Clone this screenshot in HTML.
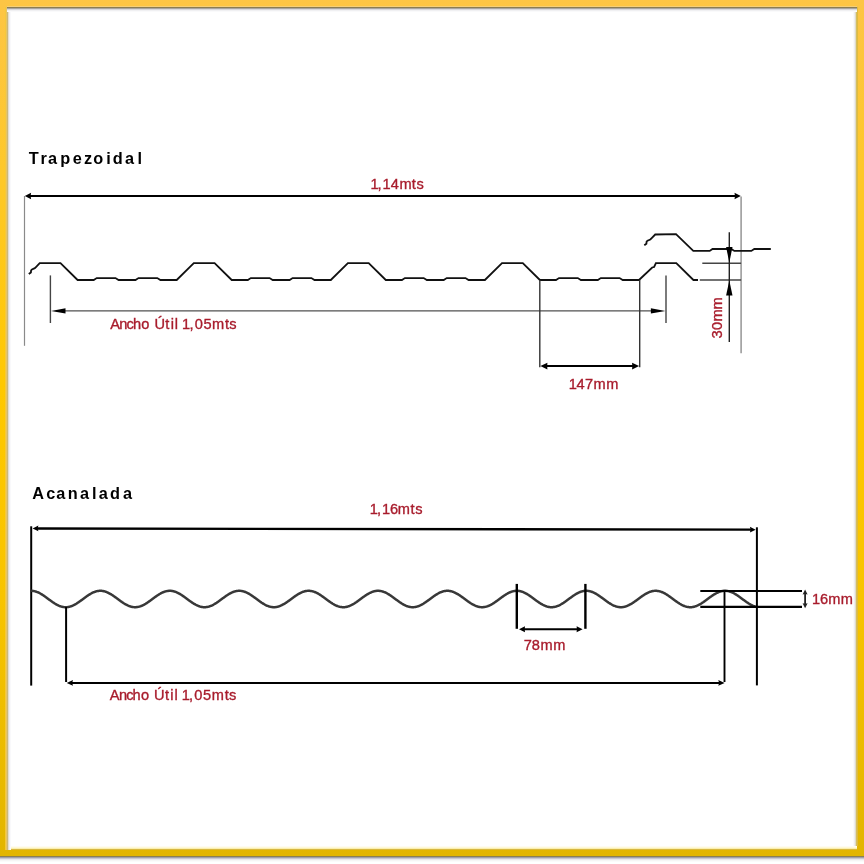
<!DOCTYPE html>
<html><head><meta charset="utf-8"><style>
html,body{margin:0;padding:0;background:#fff;width:864px;height:864px;overflow:hidden}
#frame{position:absolute;left:0;top:0;width:864px;height:856px;
background:linear-gradient(to bottom,#fdc545 0%,#fec82a 20%,#ffc800 45%,#f8c400 70%,#e2b500 100%)}
#inner{position:absolute;left:7px;top:7px;width:850px;height:842px;background:#fff}
.e{position:absolute}
#et{left:7px;top:6px;width:850px;height:6px;background:linear-gradient(to bottom,rgb(245,207,122) 0 1px,rgb(139,125,80) 1px 2px,rgb(168,164,160) 2px 3px,rgb(216,216,220) 3px 4px,rgb(240,240,242) 4px 5px,rgb(250,250,251) 5px 6px)}
#el{left:5px;top:7px;width:6px;height:843px;background:linear-gradient(to right,rgb(245,200,60) 0 1px,rgb(230,196,100) 1px 2px,rgb(204,184,120) 2px 3px,rgb(226,221,209) 3px 4px,rgb(240,240,243) 4px 5px,rgb(249,249,251) 5px 6px)}
#er{left:853px;top:7px;width:5px;height:839px;background:linear-gradient(to right,rgb(250,250,251) 0 1px,rgb(238,238,240) 1px 2px,rgb(224,220,200) 2px 3px,rgb(213,189,96) 3px 4px,rgb(221,187,64) 4px 5px)}
#eb{left:11px;top:846px;width:846px;height:4px;background:linear-gradient(to bottom,rgb(255,252,240) 0 1px,rgb(255,248,216) 1px 2px,rgb(250,239,176) 2px 3px,rgb(216,184,64) 3px 4px)}
#sh{left:0;top:856px;width:864px;height:6px;background:linear-gradient(to bottom,rgb(138,128,80) 0 1px,rgb(160,160,168) 1px 2px,rgb(200,200,208) 2px 3px,rgb(232,232,236) 3px 4px,rgb(245,245,245) 4px 5px,rgb(251,251,251) 5px 6px)}
svg{position:absolute;left:0;top:0;will-change:transform}
text{font-family:"Liberation Sans",sans-serif}
</style></head><body>
<div id="frame"></div><div id="inner"></div><div class="e" id="el"></div><div class="e" id="er"></div><div class="e" id="eb"></div><div class="e" id="et"></div><div class="e" id="sh"></div>
<svg width="864" height="864" viewBox="0 0 864 864">
<text x="33.65 43.55 52.6 65.3 77.4 88.1 98.25 108.45 117.85 129.65 139.8" y="164" font-size="16.3" font-weight="bold" fill="#000" text-anchor="middle">Trapezoidal</text>
<line x1="28" y1="196" x2="737" y2="196" stroke="#000" stroke-width="2.2"/>
<path d="M24.8 196 L31.1 192.8 L30.6 196 L31.1 199.2 Z" fill="#000"/>
<path d="M740.8 196 L734.5 192.8 L735 196 L734.5 199.2 Z" fill="#000"/>
<text x="374.6 379.6 386.55 394.9 405.5 413.8 420.1" y="188.6" font-size="14.6" fill="#a81c2c" stroke="#a81c2c" stroke-width="0.35" text-anchor="middle">1,14mts</text>
<line x1="24.5" y1="196" x2="24.5" y2="345.8" stroke="#8a8a8a" stroke-width="1.2"/>
<line x1="741.1" y1="196.5" x2="741.1" y2="353.2" stroke="#959595" stroke-width="1.5"/>
<path d="M28.8 274 L30.9 272.4 L31.1 270.3 L32 269.4 L34.8 268.2 L36.2 266.8 L39.7 263.2 L60.5 263.2 L77.6 280 L93.7 280 L96.7 278.1 L115.5 278.1 L118.6 280 L135.5 280 L138.5 278.1 L157.3 278.1 L160.4 280 L176.7 280 L193.8 263.2 L214.6 263.2 L231.7 280 L247.8 280 L250.8 278.1 L269.6 278.1 L272.7 280 L289.6 280 L292.6 278.1 L311.4 278.1 L314.5 280 L330.8 280 L347.9 263.2 L368.7 263.2 L385.8 280 L401.9 280 L404.9 278.1 L423.7 278.1 L426.8 280 L443.7 280 L446.7 278.1 L465.5 278.1 L468.6 280 L484.9 280 L502 263.2 L522.8 263.2 L539.9 280 L556 280 L559 278.1 L577.8 278.1 L580.9 280 L597.8 280 L600.8 278.1 L619.6 278.1 L622.7 280 L639 280 L652.2 267.5 L654.1 267 L655.9 263.2 L676.3 263.2 L693.4 280 L698 280" fill="none" stroke="#111" stroke-width="1.8" stroke-linejoin="miter"/>
<path d="M644.3 245.3 L646.4 243.7 L646.6 241.6 L647.5 240.7 L650.3 239.5 L651.7 238.1 L655.2 234.5 L676 234.1 L693.3 250.9 L709.7 250.9 L712.5 249 L731.3 249 L734.3 250.9 L751.3 250.9 L754.3 249 L770.8 249" fill="none" stroke="#111" stroke-width="1.8" stroke-linejoin="miter"/>
<line x1="50.4" y1="275.4" x2="50.4" y2="323" stroke="#444" stroke-width="1.4"/>
<line x1="666" y1="275.4" x2="666" y2="323" stroke="#444" stroke-width="1.4"/>
<line x1="60" y1="310.9" x2="656" y2="310.9" stroke="#505050" stroke-width="1.4"/>
<path d="M51 310.9 L65.5 308.2 L65.5 310.9 L65.5 313.6 Z" fill="#000"/>
<path d="M665.4 310.9 L650.9 308.2 L650.9 310.9 L650.9 313.6 Z" fill="#000"/>
<text x="115 123.35 130.1 136.95 145.35 152 159.65 167.3 172.25 176.4 181 186 191.45 198.7 207.45 218.1 227 232.9" y="328.7" font-size="14.6" fill="#a81c2c" stroke="#a81c2c" stroke-width="0.35" text-anchor="middle">Ancho &#218;til 1,05mts</text>
<line x1="539.8" y1="280" x2="539.8" y2="367.2" stroke="#333" stroke-width="1.4"/>
<line x1="639.7" y1="280" x2="639.7" y2="367.2" stroke="#333" stroke-width="1.4"/>
<line x1="544" y1="366.1" x2="636" y2="366.1" stroke="#000" stroke-width="2"/>
<path d="M540.4 366.1 L547.4 362.8 L547.2 366.1 L547.4 369.4 Z" fill="#000"/>
<path d="M639.1 366.1 L632.1 362.8 L632.3 366.1 L632.1 369.4 Z" fill="#000"/>
<text x="572.85 580.65 588.95 599.55 612.4" y="388.6" font-size="14.6" fill="#a81c2c" stroke="#a81c2c" stroke-width="0.35" text-anchor="middle">147mm</text>
<line x1="702.3" y1="263.2" x2="741.1" y2="263.2" stroke="#444" stroke-width="1.4"/>
<line x1="699.8" y1="280" x2="741.1" y2="280" stroke="#444" stroke-width="1.4"/>
<line x1="729.3" y1="232.2" x2="729.3" y2="342" stroke="#222" stroke-width="1.4"/>
<path d="M729.3 262.6 L726.1 247.1 L729.3 247.1 L732.5 247.1 Z" fill="#000"/>
<path d="M729.3 280.6 L726.1 295.4 L729.3 295.4 L732.5 295.4 Z" fill="#000"/>
<g transform="translate(721.6 0) rotate(-90)"><text x="-334.5 -326 -315.4 -303.45" y="0" font-size="14.6" fill="#a81c2c" stroke="#a81c2c" stroke-width="0.35" text-anchor="middle">30mm</text></g>
<text x="38.25 50.75 60.85 72.8 84.5 94.25 103.3 115.1 127.45" y="499.3" font-size="16.3" font-weight="bold" fill="#000" text-anchor="middle">Acanalada</text>
<line x1="37" y1="528.5" x2="751" y2="529.6" stroke="#000" stroke-width="2.3"/>
<path d="M32.6 528.4 L38.4 525.5 L37.6 528.4 L38.4 531.3 Z" fill="#000"/>
<path d="M755.7 529.7 L749.9 526.8 L750.7 529.7 L749.9 532.6 Z" fill="#000"/>
<text x="373.85 379 385.95 394.1 403.85 412.5 418.8" y="513.6" font-size="14.6" fill="#a81c2c" stroke="#a81c2c" stroke-width="0.35" text-anchor="middle">1,16mts</text>
<line x1="31.2" y1="526.3" x2="31.2" y2="685.6" stroke="#000" stroke-width="2"/>
<line x1="756.9" y1="527.3" x2="756.9" y2="685.4" stroke="#000" stroke-width="2"/>
<path d="M31.2 590.8 L31.7 590.82 L32.2 590.85 L32.7 590.9 L33.2 590.96 L33.7 591.04 L34.2 591.14 L34.7 591.26 L35.2 591.39 L35.7 591.53 L36.2 591.69 L36.7 591.87 L37.2 592.06 L37.7 592.26 L38.2 592.48 L38.7 592.71 L39.2 592.96 L39.7 593.21 L40.2 593.48 L40.7 593.76 L41.2 594.05 L41.7 594.36 L42.2 594.67 L42.7 594.99 L43.2 595.31 L43.7 595.65 L44.2 595.99 L44.7 596.34 L45.2 596.69 L45.7 597.05 L46.2 597.41 L46.7 597.78 L47.2 598.15 L47.7 598.52 L48.2 598.89 L48.7 599.26 L49.2 599.63 L49.7 600 L50.2 600.37 L50.7 600.73 L51.2 601.09 L51.7 601.45 L52.2 601.8 L52.7 602.15 L53.2 602.49 L53.7 602.82 L54.2 603.14 L54.7 603.46 L55.2 603.77 L55.7 604.06 L56.2 604.35 L56.7 604.63 L57.2 604.89 L57.7 605.14 L58.2 605.38 L58.7 605.61 L59.2 605.82 L59.7 606.02 L60.2 606.2 L60.7 606.37 L61.2 606.53 L61.7 606.67 L62.2 606.79 L62.7 606.9 L63.2 606.99 L63.7 607.07 L64.2 607.12 L64.7 607.17 L65.2 607.19 L65.7 607.2 L66.2 607.19 L66.7 607.17 L67.2 607.12 L67.7 607.07 L68.2 606.99 L68.7 606.9 L69.2 606.79 L69.7 606.67 L70.2 606.53 L70.7 606.37 L71.2 606.2 L71.7 606.02 L72.2 605.82 L72.7 605.61 L73.2 605.38 L73.7 605.14 L74.2 604.89 L74.7 604.63 L75.2 604.35 L75.7 604.06 L76.2 603.77 L76.7 603.46 L77.2 603.14 L77.7 602.82 L78.2 602.49 L78.7 602.15 L79.2 601.8 L79.7 601.45 L80.2 601.09 L80.7 600.73 L81.2 600.37 L81.7 600 L82.2 599.63 L82.7 599.26 L83.2 598.89 L83.7 598.52 L84.2 598.15 L84.7 597.78 L85.2 597.41 L85.7 597.05 L86.2 596.69 L86.7 596.34 L87.2 595.99 L87.7 595.65 L88.2 595.31 L88.7 594.99 L89.2 594.67 L89.7 594.36 L90.2 594.05 L90.7 593.76 L91.2 593.48 L91.7 593.21 L92.2 592.96 L92.7 592.71 L93.2 592.48 L93.7 592.26 L94.2 592.06 L94.7 591.87 L95.2 591.69 L95.7 591.53 L96.2 591.39 L96.7 591.26 L97.2 591.14 L97.7 591.04 L98.2 590.96 L98.7 590.9 L99.2 590.85 L99.7 590.82 L100.2 590.8 L100.7 590.8 L101.2 590.82 L101.7 590.86 L102.2 590.91 L102.7 590.98 L103.2 591.06 L103.7 591.16 L104.2 591.28 L104.7 591.41 L105.2 591.56 L105.7 591.73 L106.2 591.9 L106.7 592.1 L107.2 592.31 L107.7 592.53 L108.2 592.76 L108.7 593.01 L109.2 593.27 L109.7 593.54 L110.2 593.82 L110.7 594.11 L111.2 594.42 L111.7 594.73 L112.2 595.05 L112.7 595.38 L113.2 595.72 L113.7 596.06 L114.2 596.41 L114.7 596.76 L115.2 597.12 L115.7 597.49 L116.2 597.85 L116.7 598.22 L117.2 598.59 L117.7 598.96 L118.2 599.33 L118.7 599.7 L119.2 600.07 L119.7 600.44 L120.2 600.8 L120.7 601.16 L121.2 601.52 L121.7 601.87 L122.2 602.22 L122.7 602.55 L123.2 602.88 L123.7 603.21 L124.2 603.52 L124.7 603.83 L125.2 604.12 L125.7 604.41 L126.2 604.68 L126.7 604.94 L127.2 605.19 L127.7 605.43 L128.2 605.65 L128.7 605.86 L129.2 606.06 L129.7 606.24 L130.2 606.41 L130.7 606.56 L131.2 606.69 L131.7 606.81 L132.2 606.92 L132.7 607.01 L133.2 607.08 L133.7 607.13 L134.2 607.17 L134.7 607.19 L135.2 607.2 L135.7 607.19 L136.2 607.16 L136.7 607.11 L137.2 607.05 L137.7 606.97 L138.2 606.88 L138.7 606.77 L139.2 606.64 L139.7 606.5 L140.2 606.34 L140.7 606.17 L141.2 605.98 L141.7 605.78 L142.2 605.56 L142.7 605.33 L143.2 605.09 L143.7 604.84 L144.2 604.57 L144.7 604.29 L145.2 604 L145.7 603.71 L146.2 603.4 L146.7 603.08 L147.2 602.75 L147.7 602.42 L148.2 602.08 L148.7 601.73 L149.2 601.38 L149.7 601.02 L150.2 600.66 L150.7 600.29 L151.2 599.93 L151.7 599.56 L152.2 599.19 L152.7 598.81 L153.2 598.44 L153.7 598.07 L154.2 597.71 L154.7 597.34 L155.2 596.98 L155.7 596.62 L156.2 596.27 L156.7 595.92 L157.2 595.58 L157.7 595.25 L158.2 594.92 L158.7 594.6 L159.2 594.29 L159.7 594 L160.2 593.71 L160.7 593.43 L161.2 593.16 L161.7 592.91 L162.2 592.67 L162.7 592.44 L163.2 592.22 L163.7 592.02 L164.2 591.83 L164.7 591.66 L165.2 591.5 L165.7 591.36 L166.2 591.23 L166.7 591.12 L167.2 591.03 L167.7 590.95 L168.2 590.89 L168.7 590.84 L169.2 590.81 L169.7 590.8 L170.2 590.81 L170.7 590.83 L171.2 590.87 L171.7 590.92 L172.2 590.99 L172.7 591.08 L173.2 591.19 L173.7 591.31 L174.2 591.44 L174.7 591.59 L175.2 591.76 L175.7 591.94 L176.2 592.14 L176.7 592.35 L177.2 592.57 L177.7 592.81 L178.2 593.06 L178.7 593.32 L179.2 593.59 L179.7 593.88 L180.2 594.17 L180.7 594.48 L181.2 594.79 L181.7 595.12 L182.2 595.45 L182.7 595.78 L183.2 596.13 L183.7 596.48 L184.2 596.84 L184.7 597.2 L185.2 597.56 L185.7 597.93 L186.2 598.3 L186.7 598.67 L187.2 599.04 L187.7 599.41 L188.2 599.78 L188.7 600.15 L189.2 600.51 L189.7 600.88 L190.2 601.24 L190.7 601.59 L191.2 601.94 L191.7 602.28 L192.2 602.62 L192.7 602.95 L193.2 603.27 L193.7 603.58 L194.2 603.89 L194.7 604.18 L195.2 604.46 L195.7 604.73 L196.2 604.99 L196.7 605.24 L197.2 605.47 L197.7 605.69 L198.2 605.9 L198.7 606.1 L199.2 606.27 L199.7 606.44 L200.2 606.59 L200.7 606.72 L201.2 606.84 L201.7 606.94 L202.2 607.02 L202.7 607.09 L203.2 607.14 L203.7 607.18 L204.2 607.2 L204.7 607.2 L205.2 607.18 L205.7 607.15 L206.2 607.1 L206.7 607.04 L207.2 606.96 L207.7 606.86 L208.2 606.74 L208.7 606.61 L209.2 606.47 L209.7 606.31 L210.2 606.13 L210.7 605.94 L211.2 605.74 L211.7 605.52 L212.2 605.29 L212.7 605.04 L213.2 604.79 L213.7 604.52 L214.2 604.24 L214.7 603.95 L215.2 603.64 L215.7 603.33 L216.2 603.01 L216.7 602.69 L217.2 602.35 L217.7 602.01 L218.2 601.66 L218.7 601.31 L219.2 600.95 L219.7 600.59 L220.2 600.22 L220.7 599.85 L221.2 599.48 L221.7 599.11 L222.2 598.74 L222.7 598.37 L223.2 598 L223.7 597.63 L224.2 597.27 L224.7 596.91 L225.2 596.55 L225.7 596.2 L226.2 595.85 L226.7 595.51 L227.2 595.18 L227.7 594.86 L228.2 594.54 L228.7 594.23 L229.2 593.94 L229.7 593.65 L230.2 593.37 L230.7 593.11 L231.2 592.86 L231.7 592.62 L232.2 592.39 L232.7 592.18 L233.2 591.98 L233.7 591.8 L234.2 591.63 L234.7 591.47 L235.2 591.33 L235.7 591.21 L236.2 591.1 L236.7 591.01 L237.2 590.93 L237.7 590.88 L238.2 590.83 L238.7 590.81 L239.2 590.8 L239.7 590.81 L240.2 590.83 L240.7 590.88 L241.2 590.93 L241.7 591.01 L242.2 591.1 L242.7 591.21 L243.2 591.33 L243.7 591.47 L244.2 591.63 L244.7 591.8 L245.2 591.98 L245.7 592.18 L246.2 592.39 L246.7 592.62 L247.2 592.86 L247.7 593.11 L248.2 593.37 L248.7 593.65 L249.2 593.94 L249.7 594.23 L250.2 594.54 L250.7 594.86 L251.2 595.18 L251.7 595.51 L252.2 595.85 L252.7 596.2 L253.2 596.55 L253.7 596.91 L254.2 597.27 L254.7 597.63 L255.2 598 L255.7 598.37 L256.2 598.74 L256.7 599.11 L257.2 599.48 L257.7 599.85 L258.2 600.22 L258.7 600.59 L259.2 600.95 L259.7 601.31 L260.2 601.66 L260.7 602.01 L261.2 602.35 L261.7 602.69 L262.2 603.01 L262.7 603.33 L263.2 603.64 L263.7 603.95 L264.2 604.24 L264.7 604.52 L265.2 604.79 L265.7 605.04 L266.2 605.29 L266.7 605.52 L267.2 605.74 L267.7 605.94 L268.2 606.13 L268.7 606.31 L269.2 606.47 L269.7 606.61 L270.2 606.74 L270.7 606.86 L271.2 606.96 L271.7 607.04 L272.2 607.1 L272.7 607.15 L273.2 607.18 L273.7 607.2 L274.2 607.2 L274.7 607.18 L275.2 607.14 L275.7 607.09 L276.2 607.02 L276.7 606.94 L277.2 606.84 L277.7 606.72 L278.2 606.59 L278.7 606.44 L279.2 606.27 L279.7 606.1 L280.2 605.9 L280.7 605.69 L281.2 605.47 L281.7 605.24 L282.2 604.99 L282.7 604.73 L283.2 604.46 L283.7 604.18 L284.2 603.89 L284.7 603.58 L285.2 603.27 L285.7 602.95 L286.2 602.62 L286.7 602.28 L287.2 601.94 L287.7 601.59 L288.2 601.24 L288.7 600.88 L289.2 600.51 L289.7 600.15 L290.2 599.78 L290.7 599.41 L291.2 599.04 L291.7 598.67 L292.2 598.3 L292.7 597.93 L293.2 597.56 L293.7 597.2 L294.2 596.84 L294.7 596.48 L295.2 596.13 L295.7 595.78 L296.2 595.45 L296.7 595.12 L297.2 594.79 L297.7 594.48 L298.2 594.17 L298.7 593.88 L299.2 593.59 L299.7 593.32 L300.2 593.06 L300.7 592.81 L301.2 592.57 L301.7 592.35 L302.2 592.14 L302.7 591.94 L303.2 591.76 L303.7 591.59 L304.2 591.44 L304.7 591.31 L305.2 591.19 L305.7 591.08 L306.2 590.99 L306.7 590.92 L307.2 590.87 L307.7 590.83 L308.2 590.81 L308.7 590.8 L309.2 590.81 L309.7 590.84 L310.2 590.89 L310.7 590.95 L311.2 591.03 L311.7 591.12 L312.2 591.23 L312.7 591.36 L313.2 591.5 L313.7 591.66 L314.2 591.83 L314.7 592.02 L315.2 592.22 L315.7 592.44 L316.2 592.67 L316.7 592.91 L317.2 593.16 L317.7 593.43 L318.2 593.71 L318.7 594 L319.2 594.29 L319.7 594.6 L320.2 594.92 L320.7 595.25 L321.2 595.58 L321.7 595.92 L322.2 596.27 L322.7 596.62 L323.2 596.98 L323.7 597.34 L324.2 597.71 L324.7 598.07 L325.2 598.44 L325.7 598.81 L326.2 599.19 L326.7 599.56 L327.2 599.93 L327.7 600.29 L328.2 600.66 L328.7 601.02 L329.2 601.38 L329.7 601.73 L330.2 602.08 L330.7 602.42 L331.2 602.75 L331.7 603.08 L332.2 603.4 L332.7 603.71 L333.2 604 L333.7 604.29 L334.2 604.57 L334.7 604.84 L335.2 605.09 L335.7 605.33 L336.2 605.56 L336.7 605.78 L337.2 605.98 L337.7 606.17 L338.2 606.34 L338.7 606.5 L339.2 606.64 L339.7 606.77 L340.2 606.88 L340.7 606.97 L341.2 607.05 L341.7 607.11 L342.2 607.16 L342.7 607.19 L343.2 607.2 L343.7 607.19 L344.2 607.17 L344.7 607.13 L345.2 607.08 L345.7 607.01 L346.2 606.92 L346.7 606.81 L347.2 606.69 L347.7 606.56 L348.2 606.41 L348.7 606.24 L349.2 606.06 L349.7 605.86 L350.2 605.65 L350.7 605.43 L351.2 605.19 L351.7 604.94 L352.2 604.68 L352.7 604.41 L353.2 604.12 L353.7 603.83 L354.2 603.52 L354.7 603.21 L355.2 602.88 L355.7 602.55 L356.2 602.22 L356.7 601.87 L357.2 601.52 L357.7 601.16 L358.2 600.8 L358.7 600.44 L359.2 600.07 L359.7 599.7 L360.2 599.33 L360.7 598.96 L361.2 598.59 L361.7 598.22 L362.2 597.85 L362.7 597.49 L363.2 597.12 L363.7 596.76 L364.2 596.41 L364.7 596.06 L365.2 595.72 L365.7 595.38 L366.2 595.05 L366.7 594.73 L367.2 594.42 L367.7 594.11 L368.2 593.82 L368.7 593.54 L369.2 593.27 L369.7 593.01 L370.2 592.76 L370.7 592.53 L371.2 592.31 L371.7 592.1 L372.2 591.9 L372.7 591.73 L373.2 591.56 L373.7 591.41 L374.2 591.28 L374.7 591.16 L375.2 591.06 L375.7 590.98 L376.2 590.91 L376.7 590.86 L377.2 590.82 L377.7 590.8 L378.2 590.8 L378.7 590.82 L379.2 590.85 L379.7 590.9 L380.2 590.96 L380.7 591.04 L381.2 591.14 L381.7 591.26 L382.2 591.39 L382.7 591.53 L383.2 591.69 L383.7 591.87 L384.2 592.06 L384.7 592.26 L385.2 592.48 L385.7 592.71 L386.2 592.96 L386.7 593.21 L387.2 593.48 L387.7 593.76 L388.2 594.05 L388.7 594.36 L389.2 594.67 L389.7 594.99 L390.2 595.31 L390.7 595.65 L391.2 595.99 L391.7 596.34 L392.2 596.69 L392.7 597.05 L393.2 597.41 L393.7 597.78 L394.2 598.15 L394.7 598.52 L395.2 598.89 L395.7 599.26 L396.2 599.63 L396.7 600 L397.2 600.37 L397.7 600.73 L398.2 601.09 L398.7 601.45 L399.2 601.8 L399.7 602.15 L400.2 602.49 L400.7 602.82 L401.2 603.14 L401.7 603.46 L402.2 603.77 L402.7 604.06 L403.2 604.35 L403.7 604.63 L404.2 604.89 L404.7 605.14 L405.2 605.38 L405.7 605.61 L406.2 605.82 L406.7 606.02 L407.2 606.2 L407.7 606.37 L408.2 606.53 L408.7 606.67 L409.2 606.79 L409.7 606.9 L410.2 606.99 L410.7 607.07 L411.2 607.12 L411.7 607.17 L412.2 607.19 L412.7 607.2 L413.2 607.19 L413.7 607.17 L414.2 607.12 L414.7 607.07 L415.2 606.99 L415.7 606.9 L416.2 606.79 L416.7 606.67 L417.2 606.53 L417.7 606.37 L418.2 606.2 L418.7 606.02 L419.2 605.82 L419.7 605.61 L420.2 605.38 L420.7 605.14 L421.2 604.89 L421.7 604.63 L422.2 604.35 L422.7 604.06 L423.2 603.77 L423.7 603.46 L424.2 603.14 L424.7 602.82 L425.2 602.49 L425.7 602.15 L426.2 601.8 L426.7 601.45 L427.2 601.09 L427.7 600.73 L428.2 600.37 L428.7 600 L429.2 599.63 L429.7 599.26 L430.2 598.89 L430.7 598.52 L431.2 598.15 L431.7 597.78 L432.2 597.41 L432.7 597.05 L433.2 596.69 L433.7 596.34 L434.2 595.99 L434.7 595.65 L435.2 595.31 L435.7 594.99 L436.2 594.67 L436.7 594.36 L437.2 594.05 L437.7 593.76 L438.2 593.48 L438.7 593.21 L439.2 592.96 L439.7 592.71 L440.2 592.48 L440.7 592.26 L441.2 592.06 L441.7 591.87 L442.2 591.69 L442.7 591.53 L443.2 591.39 L443.7 591.26 L444.2 591.14 L444.7 591.04 L445.2 590.96 L445.7 590.9 L446.2 590.85 L446.7 590.82 L447.2 590.8 L447.7 590.8 L448.2 590.82 L448.7 590.86 L449.2 590.91 L449.7 590.98 L450.2 591.06 L450.7 591.16 L451.2 591.28 L451.7 591.41 L452.2 591.56 L452.7 591.73 L453.2 591.9 L453.7 592.1 L454.2 592.31 L454.7 592.53 L455.2 592.76 L455.7 593.01 L456.2 593.27 L456.7 593.54 L457.2 593.82 L457.7 594.11 L458.2 594.42 L458.7 594.73 L459.2 595.05 L459.7 595.38 L460.2 595.72 L460.7 596.06 L461.2 596.41 L461.7 596.76 L462.2 597.12 L462.7 597.49 L463.2 597.85 L463.7 598.22 L464.2 598.59 L464.7 598.96 L465.2 599.33 L465.7 599.7 L466.2 600.07 L466.7 600.44 L467.2 600.8 L467.7 601.16 L468.2 601.52 L468.7 601.87 L469.2 602.22 L469.7 602.55 L470.2 602.88 L470.7 603.21 L471.2 603.52 L471.7 603.83 L472.2 604.12 L472.7 604.41 L473.2 604.68 L473.7 604.94 L474.2 605.19 L474.7 605.43 L475.2 605.65 L475.7 605.86 L476.2 606.06 L476.7 606.24 L477.2 606.41 L477.7 606.56 L478.2 606.69 L478.7 606.81 L479.2 606.92 L479.7 607.01 L480.2 607.08 L480.7 607.13 L481.2 607.17 L481.7 607.19 L482.2 607.2 L482.7 607.19 L483.2 607.16 L483.7 607.11 L484.2 607.05 L484.7 606.97 L485.2 606.88 L485.7 606.77 L486.2 606.64 L486.7 606.5 L487.2 606.34 L487.7 606.17 L488.2 605.98 L488.7 605.78 L489.2 605.56 L489.7 605.33 L490.2 605.09 L490.7 604.84 L491.2 604.57 L491.7 604.29 L492.2 604 L492.7 603.71 L493.2 603.4 L493.7 603.08 L494.2 602.75 L494.7 602.42 L495.2 602.08 L495.7 601.73 L496.2 601.38 L496.7 601.02 L497.2 600.66 L497.7 600.29 L498.2 599.93 L498.7 599.56 L499.2 599.19 L499.7 598.81 L500.2 598.44 L500.7 598.07 L501.2 597.71 L501.7 597.34 L502.2 596.98 L502.7 596.62 L503.2 596.27 L503.7 595.92 L504.2 595.58 L504.7 595.25 L505.2 594.92 L505.7 594.6 L506.2 594.29 L506.7 594 L507.2 593.71 L507.7 593.43 L508.2 593.16 L508.7 592.91 L509.2 592.67 L509.7 592.44 L510.2 592.22 L510.7 592.02 L511.2 591.83 L511.7 591.66 L512.2 591.5 L512.7 591.36 L513.2 591.23 L513.7 591.12 L514.2 591.03 L514.7 590.95 L515.2 590.89 L515.7 590.84 L516.2 590.81 L516.7 590.8 L517.2 590.81 L517.7 590.83 L518.2 590.87 L518.7 590.92 L519.2 590.99 L519.7 591.08 L520.2 591.19 L520.7 591.31 L521.2 591.44 L521.7 591.59 L522.2 591.76 L522.7 591.94 L523.2 592.14 L523.7 592.35 L524.2 592.57 L524.7 592.81 L525.2 593.06 L525.7 593.32 L526.2 593.59 L526.7 593.88 L527.2 594.17 L527.7 594.48 L528.2 594.79 L528.7 595.12 L529.2 595.45 L529.7 595.78 L530.2 596.13 L530.7 596.48 L531.2 596.84 L531.7 597.2 L532.2 597.56 L532.7 597.93 L533.2 598.3 L533.7 598.67 L534.2 599.04 L534.7 599.41 L535.2 599.78 L535.7 600.15 L536.2 600.51 L536.7 600.88 L537.2 601.24 L537.7 601.59 L538.2 601.94 L538.7 602.28 L539.2 602.62 L539.7 602.95 L540.2 603.27 L540.7 603.58 L541.2 603.89 L541.7 604.18 L542.2 604.46 L542.7 604.73 L543.2 604.99 L543.7 605.24 L544.2 605.47 L544.7 605.69 L545.2 605.9 L545.7 606.1 L546.2 606.27 L546.7 606.44 L547.2 606.59 L547.7 606.72 L548.2 606.84 L548.7 606.94 L549.2 607.02 L549.7 607.09 L550.2 607.14 L550.7 607.18 L551.2 607.2 L551.7 607.2 L552.2 607.18 L552.7 607.15 L553.2 607.1 L553.7 607.04 L554.2 606.96 L554.7 606.86 L555.2 606.74 L555.7 606.61 L556.2 606.47 L556.7 606.31 L557.2 606.13 L557.7 605.94 L558.2 605.74 L558.7 605.52 L559.2 605.29 L559.7 605.04 L560.2 604.79 L560.7 604.52 L561.2 604.24 L561.7 603.95 L562.2 603.64 L562.7 603.33 L563.2 603.01 L563.7 602.69 L564.2 602.35 L564.7 602.01 L565.2 601.66 L565.7 601.31 L566.2 600.95 L566.7 600.59 L567.2 600.22 L567.7 599.85 L568.2 599.48 L568.7 599.11 L569.2 598.74 L569.7 598.37 L570.2 598 L570.7 597.63 L571.2 597.27 L571.7 596.91 L572.2 596.55 L572.7 596.2 L573.2 595.85 L573.7 595.51 L574.2 595.18 L574.7 594.86 L575.2 594.54 L575.7 594.23 L576.2 593.94 L576.7 593.65 L577.2 593.37 L577.7 593.11 L578.2 592.86 L578.7 592.62 L579.2 592.39 L579.7 592.18 L580.2 591.98 L580.7 591.8 L581.2 591.63 L581.7 591.47 L582.2 591.33 L582.7 591.21 L583.2 591.1 L583.7 591.01 L584.2 590.93 L584.7 590.88 L585.2 590.83 L585.7 590.81 L586.2 590.8 L586.7 590.81 L587.2 590.83 L587.7 590.88 L588.2 590.93 L588.7 591.01 L589.2 591.1 L589.7 591.21 L590.2 591.33 L590.7 591.47 L591.2 591.63 L591.7 591.8 L592.2 591.98 L592.7 592.18 L593.2 592.39 L593.7 592.62 L594.2 592.86 L594.7 593.11 L595.2 593.37 L595.7 593.65 L596.2 593.94 L596.7 594.23 L597.2 594.54 L597.7 594.86 L598.2 595.18 L598.7 595.51 L599.2 595.85 L599.7 596.2 L600.2 596.55 L600.7 596.91 L601.2 597.27 L601.7 597.63 L602.2 598 L602.7 598.37 L603.2 598.74 L603.7 599.11 L604.2 599.48 L604.7 599.85 L605.2 600.22 L605.7 600.59 L606.2 600.95 L606.7 601.31 L607.2 601.66 L607.7 602.01 L608.2 602.35 L608.7 602.69 L609.2 603.01 L609.7 603.33 L610.2 603.64 L610.7 603.95 L611.2 604.24 L611.7 604.52 L612.2 604.79 L612.7 605.04 L613.2 605.29 L613.7 605.52 L614.2 605.74 L614.7 605.94 L615.2 606.13 L615.7 606.31 L616.2 606.47 L616.7 606.61 L617.2 606.74 L617.7 606.86 L618.2 606.96 L618.7 607.04 L619.2 607.1 L619.7 607.15 L620.2 607.18 L620.7 607.2 L621.2 607.2 L621.7 607.18 L622.2 607.14 L622.7 607.09 L623.2 607.02 L623.7 606.94 L624.2 606.84 L624.7 606.72 L625.2 606.59 L625.7 606.44 L626.2 606.27 L626.7 606.1 L627.2 605.9 L627.7 605.69 L628.2 605.47 L628.7 605.24 L629.2 604.99 L629.7 604.73 L630.2 604.46 L630.7 604.18 L631.2 603.89 L631.7 603.58 L632.2 603.27 L632.7 602.95 L633.2 602.62 L633.7 602.28 L634.2 601.94 L634.7 601.59 L635.2 601.24 L635.7 600.88 L636.2 600.51 L636.7 600.15 L637.2 599.78 L637.7 599.41 L638.2 599.04 L638.7 598.67 L639.2 598.3 L639.7 597.93 L640.2 597.56 L640.7 597.2 L641.2 596.84 L641.7 596.48 L642.2 596.13 L642.7 595.78 L643.2 595.45 L643.7 595.12 L644.2 594.79 L644.7 594.48 L645.2 594.17 L645.7 593.88 L646.2 593.59 L646.7 593.32 L647.2 593.06 L647.7 592.81 L648.2 592.57 L648.7 592.35 L649.2 592.14 L649.7 591.94 L650.2 591.76 L650.7 591.59 L651.2 591.44 L651.7 591.31 L652.2 591.19 L652.7 591.08 L653.2 590.99 L653.7 590.92 L654.2 590.87 L654.7 590.83 L655.2 590.81 L655.7 590.8 L656.2 590.81 L656.7 590.84 L657.2 590.89 L657.7 590.95 L658.2 591.03 L658.7 591.12 L659.2 591.23 L659.7 591.36 L660.2 591.5 L660.7 591.66 L661.2 591.83 L661.7 592.02 L662.2 592.22 L662.7 592.44 L663.2 592.67 L663.7 592.91 L664.2 593.16 L664.7 593.43 L665.2 593.71 L665.7 594 L666.2 594.29 L666.7 594.6 L667.2 594.92 L667.7 595.25 L668.2 595.58 L668.7 595.92 L669.2 596.27 L669.7 596.62 L670.2 596.98 L670.7 597.34 L671.2 597.71 L671.7 598.07 L672.2 598.44 L672.7 598.81 L673.2 599.19 L673.7 599.56 L674.2 599.93 L674.7 600.29 L675.2 600.66 L675.7 601.02 L676.2 601.38 L676.7 601.73 L677.2 602.08 L677.7 602.42 L678.2 602.75 L678.7 603.08 L679.2 603.4 L679.7 603.71 L680.2 604 L680.7 604.29 L681.2 604.57 L681.7 604.84 L682.2 605.09 L682.7 605.33 L683.2 605.56 L683.7 605.78 L684.2 605.98 L684.7 606.17 L685.2 606.34 L685.7 606.5 L686.2 606.64 L686.7 606.77 L687.2 606.88 L687.7 606.97 L688.2 607.05 L688.7 607.11 L689.2 607.16 L689.7 607.19 L690.2 607.2 L690.7 607.19 L691.2 607.17 L691.7 607.13 L692.2 607.08 L692.7 607.01 L693.2 606.92 L693.7 606.81 L694.2 606.69 L694.7 606.56 L695.2 606.41 L695.7 606.24 L696.2 606.06 L696.7 605.86 L697.2 605.65 L697.7 605.43 L698.2 605.19 L698.7 604.94 L699.2 604.68 L699.7 604.41 L700.2 604.12 L700.7 603.83 L701.2 603.52 L701.7 603.21 L702.2 602.88 L702.7 602.55 L703.2 602.22 L703.7 601.87 L704.2 601.52 L704.7 601.16 L705.2 600.8 L705.7 600.44 L706.2 600.07 L706.7 599.7 L707.2 599.33 L707.7 598.96 L708.2 598.59 L708.7 598.22 L709.2 597.85 L709.7 597.49 L710.2 597.12 L710.7 596.76 L711.2 596.41 L711.7 596.06 L712.2 595.72 L712.7 595.38 L713.2 595.05 L713.7 594.73 L714.2 594.42 L714.7 594.11 L715.2 593.82 L715.7 593.54 L716.2 593.27 L716.7 593.01 L717.2 592.76 L717.7 592.53 L718.2 592.31 L718.7 592.1 L719.2 591.9 L719.7 591.73 L720.2 591.56 L720.7 591.41 L721.2 591.28 L721.7 591.16 L722.2 591.06 L722.7 590.98 L723.2 590.91 L723.7 590.86 L724.2 590.82 L724.7 590.8 L725.2 590.8 L725.7 590.82 L726.2 590.85 L726.7 590.9 L727.2 590.96 L727.7 591.04 L728.2 591.14 L728.7 591.26 L729.2 591.39 L729.7 591.53 L730.2 591.69 L730.7 591.87 L731.2 592.06 L731.7 592.26 L732.2 592.48 L732.7 592.71 L733.2 592.96 L733.7 593.21 L734.2 593.48 L734.7 593.76 L735.2 594.05 L735.7 594.36 L736.2 594.67 L736.7 594.99 L737.2 595.31 L737.7 595.65 L738.2 595.99 L738.7 596.34 L739.2 596.69 L739.7 597.05 L740.2 597.41 L740.7 597.78 L741.2 598.15 L741.7 598.52 L742.2 598.89 L742.7 599.26 L743.2 599.63 L743.7 600 L744.2 600.37 L744.7 600.73 L745.2 601.09 L745.7 601.45 L746.2 601.8 L746.7 602.15 L747.2 602.49 L747.7 602.82 L748.2 603.14 L748.7 603.46 L749.2 603.77 L749.7 604.06 L750.2 604.35 L750.7 604.63 L751.2 604.89 L751.7 605.14 L752.2 605.38 L752.7 605.61 L753.2 605.82 L753.7 606.02 L754.2 606.2 L754.7 606.37 L755.2 606.53 L755.7 606.67" fill="none" stroke="#383838" stroke-width="2.5" stroke-linejoin="round"/>
<line x1="516.8" y1="583.9" x2="516.8" y2="628.8" stroke="#000" stroke-width="2.4"/>
<line x1="585.4" y1="583.9" x2="585.4" y2="628.8" stroke="#000" stroke-width="2.4"/>
<line x1="522" y1="629.2" x2="580" y2="629.2" stroke="#000" stroke-width="2"/>
<path d="M519 629.2 L525 626.2 L524.7 629.2 L525 632.2 Z" fill="#000"/>
<path d="M582.6 629.2 L576.6 626.2 L576.9 629.2 L576.6 632.2 Z" fill="#000"/>
<text x="527.8 535.8 546.6 559.35" y="649.8" font-size="14.6" fill="#a81c2c" stroke="#a81c2c" stroke-width="0.35" text-anchor="middle">78mm</text>
<line x1="700.3" y1="591" x2="802" y2="591" stroke="#000" stroke-width="2.2"/>
<line x1="700.3" y1="606.85" x2="802" y2="606.85" stroke="#000" stroke-width="2.2"/>
<line x1="805.1" y1="592" x2="805.1" y2="606" stroke="#222" stroke-width="1.8"/>
<path d="M805.1 589.4 L802.6 594.4 L805.1 593.9 L807.6 594.4 Z" fill="#222"/>
<path d="M805.1 608.2 L802.6 603.2 L805.1 603.7 L807.6 603.2 Z" fill="#222"/>
<text x="815.95 824.05 834.3 846.9" y="603.6" font-size="14.6" fill="#a81c2c" stroke="#a81c2c" stroke-width="0.35" text-anchor="middle">16mm</text>
<line x1="66.1" y1="607" x2="66.1" y2="682" stroke="#000" stroke-width="2"/>
<line x1="724.5" y1="591" x2="724.5" y2="682" stroke="#000" stroke-width="1.9"/>
<line x1="71" y1="682.9" x2="720" y2="682.9" stroke="#000" stroke-width="2"/>
<path d="M66.7 682.9 L73 680.1 L72.2 682.9 L73 685.7 Z" fill="#000"/>
<path d="M724.6 682.9 L718.3 680.1 L719.1 682.9 L718.3 685.7 Z" fill="#000"/>
<text x="114.7 123.05 129.8 136.65 145.05 151.7 159.35 167 171.95 176.1 180.7 185.7 191.15 198.4 207.15 217.8 226.7 232.6" y="700.2" font-size="14.6" fill="#a81c2c" stroke="#a81c2c" stroke-width="0.35" text-anchor="middle">Ancho &#218;til 1,05mts</text>
</svg>
</body></html>
